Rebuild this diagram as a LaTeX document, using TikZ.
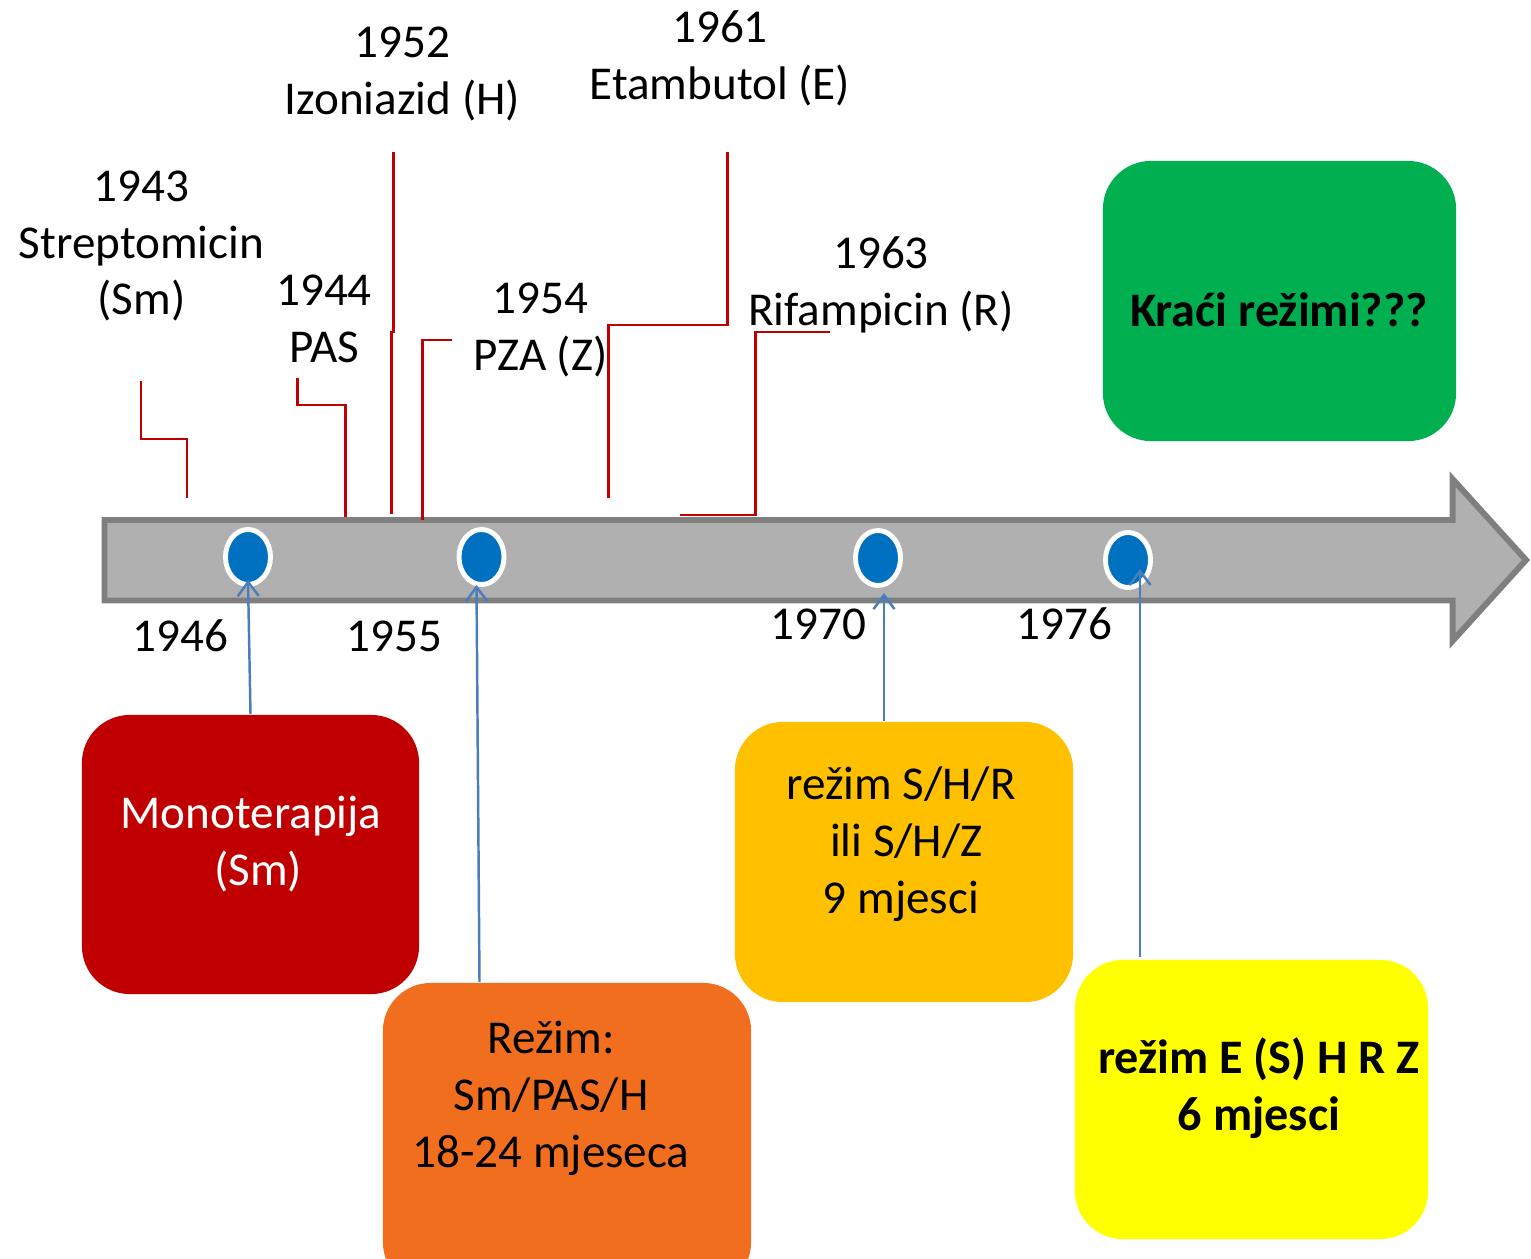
\documentclass[tikz,border=0pt]{standalone}
\usepackage{fontspec}
\setmainfont{Carlito}
\usepackage{xcolor}
\usetikzlibrary{arrows.meta, calc, shapes.geometric}
\definecolor{tlRed}{HTML}{C00000}
\definecolor{tlOrange}{HTML}{F26E1F}
\definecolor{tlAmber}{HTML}{FFC000}
\definecolor{tlYellow}{HTML}{FFFF00}
\definecolor{tlGreen}{HTML}{00B050}
\definecolor{dotBlue}{HTML}{0070C0}
\definecolor{pointerBlue}{HTML}{4A7EBB}
\definecolor{barFill}{HTML}{B0B0B0}
\definecolor{barEdge}{HTML}{7F7F7F}
\tikzset{
pointer/.style={draw=pointerBlue, line width=0.7pt, -{Straight Barb[length=4pt,width=6pt]}}}

\begin{document}
\begin{tikzpicture}[x=0.01cm, y=-0.01cm]
		\tikzset{dot/.style = {shape=ellipse, draw=white, line width=1.4pt, fill=dotBlue, minimum width=0.45cm, minimum height=0.55cm, inner sep=0pt}}
		\tikzset{lbl/.style = {align=center, inner sep=0pt, font=\fontsize{13.4}{16.2}\selectfont}}
		\tikzset{bold lbl/.style = {lbl, font=\fontsize{13.7}{16.2}\selectfont\bfseries}}
		\tikzset{box/.style = {rounded corners=0.48cm, inner sep=0pt}}
		\tikzset{drug/.style = {draw=tlRed, line width=0.85pt}}

		\useasboundingbox (0,0) rectangle (1531,1258);

		% time axis
		\draw[barEdge, fill=barFill, line width=1.7pt] (104.5,520) -- (1452.5,520) -- (1452.5,479)
			-- (1526,560) -- (1452.5,641) -- (1452.5,600.5) -- (104.5,600.5) -- cycle;

		\node[dot] (D_1) at (248,557) {};
		\node[dot] (D_2) at (481.5,557) {};
		\node[dot] (D_3) at (878,558) {};
		\node[dot] (D_4) at (1128,560) {};

		\node[lbl] (Y_1) at (180.5,636) {1946};
		\node[lbl] (Y_2) at (394.5,636) {1955};
		\node[lbl] (Y_3) at (818.5,624) {1970};
		\node[lbl] (Y_4) at (1064.5,624) {1976};

		% drugs above the axis
		\node[lbl] (Sm) at (141.5,246) {1943\\Streptomicin\\(Sm)};
		\node[lbl] (PAS) at (324,319) {1944\\PAS};
		\node[lbl] (INH) at (402.5,73.5) {1952\\Izoniazid (H)};
		\node[lbl] (PZA) at (540.5,329.5) {1954\\PZA (Z)};
		\node[lbl] (EMB) at (720,58.5) {1961\\Etambutol (E)};
		\node[lbl] (RIF) at (881,285) {1963\\Rifampicin (R)};

		\draw[drug] (141,381) |- (187,439) -- (187,498);
		\draw[drug] (297,378) |- (345,405) -- (345,517);
		\draw[drug] (393,152) -- (393,332) -- (391,332) -- (391,514);
		\draw[drug] (452,340) -| (422,520);
		\draw[drug] (727,152) |- (608,325) -- (608,498);
		\draw[drug] (830,332) -| (755,515) -- (680,515);

		% regimens
		\node[box, fill=tlRed, minimum width=3.37cm, minimum height=2.79cm] (Mono) at (250.5,854.5) {};
		\node[lbl, text=white] (Mono_txt) at (251,844) {Monoterapija\\\hspace*{.3em}(Sm)};

		\node[box, fill=tlOrange, minimum width=3.68cm, minimum height=3.07cm] (Rezim_1) at (567,1136.5) {};
		\node[lbl] (Rezim_1_txt) at (551,1098) {Režim:\\Sm/PAS/H\\18-24 mjeseca};

		\node[box, fill=tlAmber, minimum width=3.38cm, minimum height=2.80cm] (Rezim_2) at (904,862) {};
		\node[lbl] (Rezim_2_txt) at (901,844) {režim S/H/R\\\hspace*{.23em}ili S/H/Z\\9 mjesci};

		\node[box, fill=tlYellow, minimum width=3.53cm, minimum height=2.79cm] (Rezim_3) at (1251.5,1099.5) {};
		\node[bold lbl] (Rezim_3_txt) at (1259,1088) {režim E (S) H R Z\\6 mjesci};

		\node[box, fill=tlGreen, minimum width=3.53cm, minimum height=2.80cm] (Kraci) at (1279.5,301) {};
		\node[bold lbl] (Kraci_txt) at (1279,310) {Kraći režimi???};

		\draw[pointer] (Mono.north) -- ($(D_1)+(0,23)$);
		\draw[pointer] ($(Rezim_1.north -| D_2)+(-2,0)$) -- ($(D_2)+(-5,28)$);
		\draw[pointer] ($(D_3 |- Rezim_2.north)+(6,0)$) -- ($(D_3)+(6,35)$);
		\draw[pointer] ($(D_4 |- Rezim_3.north)+(12,-2)$) -- ($(D_4)+(12,9)$);

	\end{tikzpicture}
\end{document}
